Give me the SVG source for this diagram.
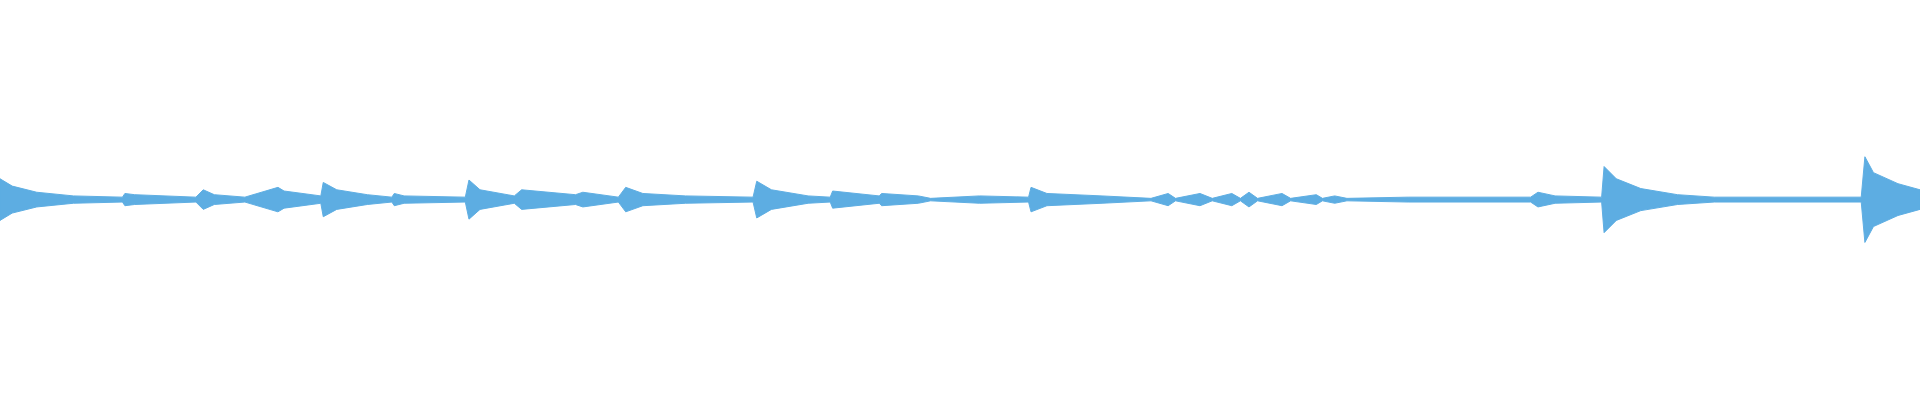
<svg xmlns="http://www.w3.org/2000/svg" width="1920" height="400" viewBox="0 0 1920 400">
<style>.w{fill:#5dade2;stroke:#5dade2;stroke-width:0.8;stroke-linejoin:round}</style>
<rect width="1920" height="400" fill="#ffffff"/>
<g id="waveform" transform="scale(1.22449)">
<path class="w" d="M0,146 L10,152 L30,157 L60,160 L100,161 L102,158 L110,159 L160,161 L166,155 L175,159 L200,161 L227,153 L232,156 L262,160 L264,149 L275,155 L300,159 L320,161 L322,158 L330,160 L380,161 L383,147 L392,155 L420,160 L426,155 L470,159 L476,157 L505,161 L511,153 L525,158 L560,160 L615,161 L618,148 L630,155 L660,160 L678,161 L680,156 L718,160 L720,158 L750,160 L760,162 L800,160 L840,161 L842,153 L855,158 L900,160 L940,162 L954,158 L960,162 L980,158 L990,162 L1006,158 L1013,162 L1020,157 L1027,162 L1047,158 L1054,162 L1075,159 L1080,162 L1090,160 L1100,162 L1150,161 L1250,161 L1256,157 L1270,160 L1308,161 L1310,136 L1320,146 L1340,154 L1370,159 L1400,161 L1520,161 L1523,128 L1530,141 L1550,150 L1568,155 L1568,171 L1550,176 L1530,185 L1523,198 L1520,165 L1400,165 L1370,167 L1340,172 L1320,180 L1310,190 L1308,165 L1270,166 L1256,169 L1250,165 L1150,165 L1100,164 L1090,166 L1080,164 L1075,167 L1054,164 L1047,168 L1027,164 L1020,169 L1013,164 L1006,168 L990,164 L980,168 L960,164 L954,168 L940,164 L900,166 L855,168 L842,173 L840,165 L800,166 L760,164 L750,166 L720,168 L718,166 L680,170 L678,165 L660,166 L630,171 L618,178 L615,165 L560,166 L525,168 L511,173 L505,165 L476,169 L470,167 L426,171 L420,166 L392,171 L383,179 L380,165 L330,166 L322,168 L320,165 L300,167 L275,171 L264,177 L262,166 L232,170 L227,173 L200,165 L175,167 L166,171 L160,165 L110,167 L102,168 L100,165 L60,166 L30,169 L10,174 L0,180 Z"/>
</g>
</svg>
